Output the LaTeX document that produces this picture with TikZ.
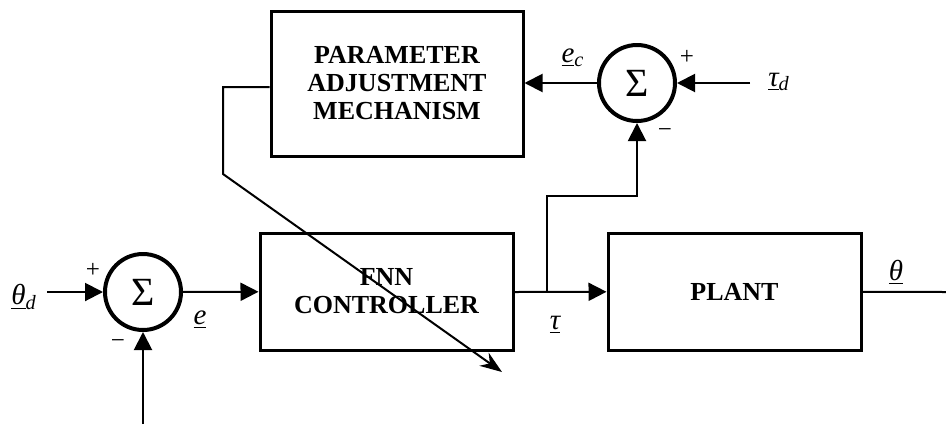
\documentclass[tikz,border=0pt]{standalone}
\usepackage{fontspec}
\setmainfont{Liberation Serif}
\usepackage{tikz}
\usetikzlibrary{arrows.meta,positioning,calc}
\tikzset{
  block/.style={draw, line width=1.5pt, align=center, font=\fontsize{13}{14}\selectfont\bfseries},
  sumnode/.style={circle, draw, line width=2pt, minimum size=38pt, inner sep=0pt, font=\fontsize{20}{20}\selectfont},
  arrow/.style={-{Triangle[length=9pt,width=9pt]}, line width=1pt},
  wire/.style={line width=1pt},
  adjarrow/.style={-{Stealth[length=11pt,width=8pt]}, line width=1pt},
  lbl/.style={font=\fontsize{14.5}{14.5}\selectfont\itshape, inner sep=1pt},
  sgn/.style={font=\fontsize{12.5}{12.5}\selectfont, inner sep=0pt}
}
\begin{document}
\begin{tikzpicture}[x=0.5pt,y=-0.5pt]
  \useasboundingbox (0,0) rectangle (946,424);

  \node[sumnode] (sumA) at (143,292) {Σ};
  \node[block, minimum width=126.5pt, minimum height=58.5pt] (fnn) at (386.5,291.5) {FNN\\CONTROLLER};
  \node[block, minimum width=126.5pt, minimum height=58.5pt] (plant) at (734.5,291.5) {PLANT};
  \node[block, minimum width=126pt, minimum height=72.5pt] (pam) at (397,83.5) {PARAMETER\\ADJUSTMENT\\MECHANISM};
  \node[sumnode] (sumB) at (637,83) {Σ};

  \coordinate (thin) at (47,292);
  \coordinate (fbin) at (143,424);
  \coordinate (br) at (547,292);
  \coordinate (up) at (547,196);
  \coordinate (tdin) at (750,83);
  \coordinate (out) at (946,292);
  \coordinate (adjA) at (223,87);
  \coordinate (adjB) at (223,174);
  \coordinate (adjC) at (502,372);

  \node[lbl] (lthd) at (24,297) {\underline{θ}\textsubscript{d}};
  \node[lbl] (le) at (200,320) {\underline{e}};
  \node[lbl] (lec) at (573,58) {\underline{e}\textsubscript{c}};
  \node[lbl] (ltd) at (779,82) {\underline{τ}\textsubscript{d}};
  \node[lbl] (lt) at (555,325) {\underline{τ}};
  \node[lbl] (lth) at (896,272) {\underline{θ}};
  \node[sgn] (pA) at (93,270) {+};
  \node[sgn] (mA) at (118,344) {−};
  \node[sgn] (pB) at (687,57) {+};
  \node[sgn] (mB) at (665,133) {−};

  \draw[arrow] (thin) -- (sumA);
  \draw[arrow] (fbin) -- (sumA);
  \draw[arrow] (sumA) -- (fnn);
  \draw[arrow] (fnn.east |- br) -- (plant);
  \draw[wire] (plant) -- (out);
  \draw[arrow] (br) -- (up) -| (sumB);
  \draw[arrow] (tdin) -- (sumB);
  \draw[arrow] (sumB) -- (pam.east |- sumB);
  \draw[adjarrow] (pam.west |- adjA) -- (adjA) -- (adjB) -- (adjC);
\end{tikzpicture}
\end{document}
